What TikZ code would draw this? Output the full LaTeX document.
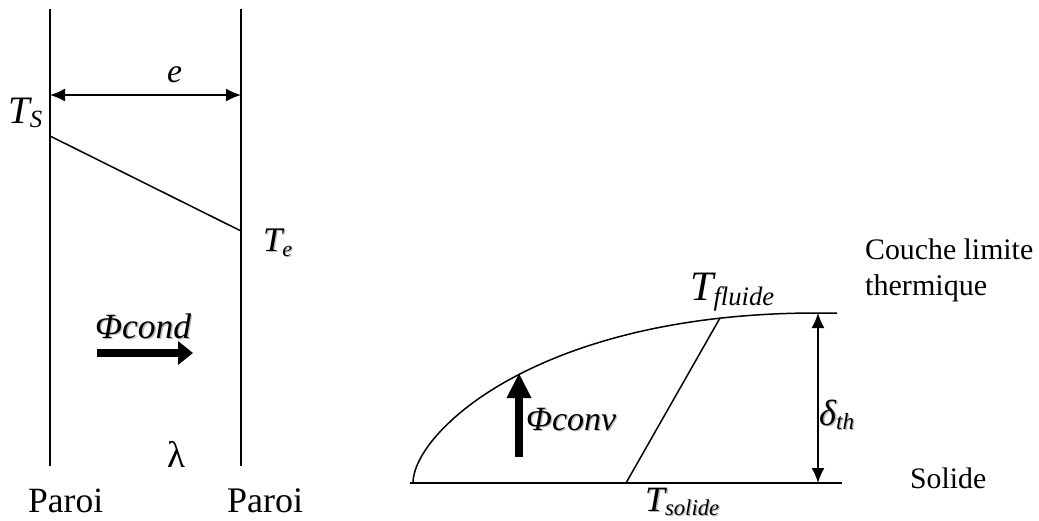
\documentclass[tikz,border=0pt]{standalone}
\usepackage{fontspec}
\setmainfont{Liberation Serif}
\usetikzlibrary{arrows.meta}
\newcommand\shd[1]{\leavevmode\rlap{\kern1.2pt\raisebox{-1.2pt}{\color{black!28}#1}}#1}
\newcommand\fs[1]{\fontsize{#1}{#1}\selectfont}
\newcommand\sub[2]{\raisebox{-#1pt}{\fs{21}#2}}
\newcommand\fitw[2]{\resizebox{#1pt}{!}{#2}}
\begin{document}
\begin{tikzpicture}[x=1pt,y=-1pt,
  wire/.style={line width=1.5pt,black},
  dim/.style={line width=1.5pt,{Latex[length=15pt,width=13pt]}-{Latex[length=15pt,width=13pt]}},
  flux/.style={line width=8pt,-{Triangle[length=15pt,width=23pt]}},
  lbl/.style={inner sep=0pt,anchor=base west,font=\fs{33}\itshape},
  txt/.style={inner sep=0pt,anchor=base west,font=\fs{31}}]
\useasboundingbox (0,0) rectangle (1039,520);
% ---- left: conduction ----
\coordinate (w1t) at (50,9);   \coordinate (w1b) at (50,466);
\coordinate (w2t) at (241,9);  \coordinate (w2b) at (241,466);
\coordinate (ea) at (50,95);   \coordinate (eb) at (241,95);
\coordinate (ts) at (50,136);  \coordinate (te) at (241,231);
\coordinate (c1) at (97,353);  \coordinate (c2) at (193,353);
\draw[wire] (w1t) -- (w1b);
\draw[wire] (w2t) -- (w2b);
\draw[dim] (ea) -- (eb);
\draw[wire] (ts) -- (te);
\draw[flux] (c1) -- (c2);
\node[lbl] (le) at (167,82) {\fitw{15}{e}};
\node[lbl] (lts) at (8,123) {\fitw{34}{T\sub{4}{S}}};
\node[lbl] (lte) at (263,251) {\fitw{29}{\shd{T\sub{5}{e}}}};
\node[lbl] (lphi) at (95,338) {\fitw{96}{\shd{Φcond}}};
\node[txt] (llam) at (167,467) {\fitw{18}{λ}};
\node[txt] (p1) at (28,512) {\fitw{75}{Paroi}};
\node[txt] (p2) at (227,512) {\fitw{76}{Paroi}};
% ---- right: convection ----
\coordinate (s0) at (410,483); \coordinate (s1) at (842,483);
\coordinate (k0) at (413,483); \coordinate (k1) at (817,313);
\coordinate (k2) at (837,313);
\coordinate (la) at (626,483); \coordinate (lb) at (720,318);
\coordinate (da) at (818,313); \coordinate (db) at (818,483);
\coordinate (f1) at (519,457); \coordinate (f2) at (519,373);
\draw[wire] (s0) -- (s1);
\draw[wire] (k0) .. controls (413,433) and (537,313) .. (k1) -- (k2);
\draw[wire] (la) -- (lb);
\draw[dim] (da) -- (db);
\draw[line width=8pt,-{Triangle[length=25pt,width=23pt]}] (f1) -- (f2);
\node[lbl] (ltf) at (690,300) {\fitw{84}{T\sub{4}{fluide}}};
\node[lbl] (ltso) at (645,511) {\fitw{74}{\shd{T\sub{4}{solide}}}};
\node[lbl] (lphc) at (526,430) {\fitw{90}{\shd{Φconv}}};
\node[lbl] (ldel) at (819,425) {\fitw{35}{\shd{δ\sub{4}{th}}}};
\node[txt] (sol) at (910,488) {\fitw{76}{Solide}};
\node[txt] (cl1) at (865,259) {\fitw{168}{Couche limite}};
\node[txt] (cl2) at (865,295) {\fitw{122}{thermique}};
\end{tikzpicture}
\end{document}
